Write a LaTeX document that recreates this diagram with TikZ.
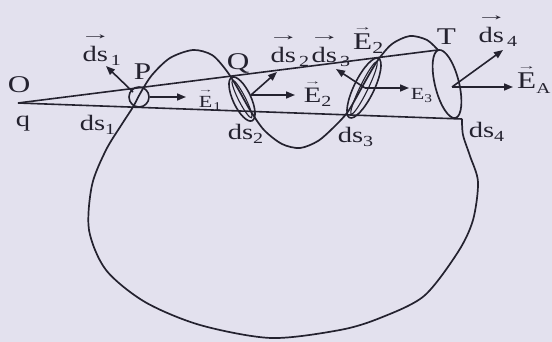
\documentclass[tikz,border=0pt]{standalone}
\usepackage{fontspec}
\setmainfont{Liberation Serif}[FakeStretch=1.3]
\usetikzlibrary{arrows.meta,positioning}
\definecolor{GaussInk}{HTML}{24222F}
\definecolor{GaussPaper}{HTML}{E3E1EE}
\newcommand{\overarrow}[3]{\shortstack{{\fontsize{#2}{#2}\selectfont\scalebox{1.5}[1]{→}}\\[#3]#1}}

\begin{document}
\begin{tikzpicture}[x=1pt,y=-1pt,line width=1.6pt,color=GaussInk,
  surf/.style={line width=1.7pt},
  field/.style={-{Triangle[length=9pt,width=7pt]}},
  lbl/.style={anchor=base west,inner sep=0pt,font=\fontsize{22}{24}\selectfont},
  pointlbl/.style={lbl,font=\fontsize{24}{26}\selectfont},
  sml/.style={lbl,font=\fontsize{17}{19}\selectfont},
]
\fill[GaussPaper] (0,0) rectangle (552,342);
\useasboundingbox (0,0) rectangle (552,342);

\coordinate (O) at (18,103);
\coordinate (T) at (438,50);
\coordinate (D4) at (462,119);
\coordinate (Pc) at (139,97);
\coordinate (Qc) at (242,99);
\coordinate (Rc) at (364,88);
\coordinate (Tc) at (447,84);

\draw (O) -- (T);
\draw (O) -- (D4);

\draw[surf] plot[smooth] coordinates {(462,119) (463,135) (470,156) (478,182) (473,220)
  (458,252) (424,296) (380,318) (340,330) (271,338) (200,325) (145,302) (106,270)
  (89,230) (92,185) (106,150) (122,124) (133,107) (141,92) (152,75) (170,58)
  (193,50) (212,55) (226,70) (237,87) (250,110) (264,130) (282,144) (300,148)
  (318,141) (334,127) (347,113) (356,98) (366,80) (378,60) (392,44) (410,36)
  (427,40) (438,50)};

\draw (Pc) circle [radius=10];
\draw[rotate around={-65:(Qc)}] (Qc) ellipse [x radius=24, y radius=9];
\draw[line width=1.1pt,rotate around={-63:(Qc)}] (Qc) ellipse [x radius=21, y radius=3.5];
\draw[rotate around={64:(Rc)}] (Rc) ellipse [x radius=33, y radius=10];
\draw[line width=1.1pt,rotate around={64:(Rc)}] (Rc) ellipse [x radius=29, y radius=4];
\draw[surf,rotate around={14:(Tc)}] (Tc) ellipse [x radius=12, y radius=35];

\coordinate (P1) at (133,92);
\coordinate (P2) at (150,97);
\coordinate (Q1) at (251,95);
\coordinate (R1) at (365,88);
\coordinate (T1) at (452,87);
\coordinate (P1tip) at (106,66);
\coordinate (P2tip) at (186,97);
\coordinate (Q1tip) at (277,72);
\coordinate (Q2tip) at (295,95);
\coordinate (R1tip) at (336,69);
\coordinate (R2tip) at (409,88);
\coordinate (T1tip) at (503,50);
\coordinate (T2tip) at (513,87);

\draw[field] (P1) -- (P1tip);
\draw[field] (P2) -- (P2tip);
\draw[field] (Q1) -- (Q1tip);
\draw[field] (Q1) -- (Q2tip);
\draw[field] (R1) -- (R1tip);
\draw[field] (R1) -- (R2tip);
\draw[field] (T1) -- (T1tip);
\draw[field] (T1) -- (T2tip);

\node[pointlbl] (o) at (7,93) {O};
\node[lbl] (q) at (15,127) {q};
\node[lbl] (vds1) at (79,62) {\overarrow{ds}{16}{4pt}\textsubscript{1}};
\node[pointlbl] (p) at (133,80) {P};
\node[lbl] (ds1) at (79,131) {ds\textsubscript{1}};
\node[sml] (e1) at (197,108) {\overarrow{E}{8}{1pt}\textsubscript{1}};
\node[pointlbl] (qq) at (226,70) {Q};
\node[lbl] (ds2) at (227,140) {ds\textsubscript{2}};
\node[lbl] (vds2) at (267,63) {\overarrow{ds}{16}{4pt}\textsubscript{2}};
\node[lbl] (vds3) at (308,63) {\overarrow{ds}{16}{4pt}\textsubscript{3}};
\node[pointlbl] (e2top) at (352,50) {\overarrow{E}{10}{1pt}\textsubscript{2}};
\node[lbl] (e2) at (303,103) {\overarrow{E}{9}{1pt}\textsubscript{2}};
\node[sml] (e3) at (410,100) {E\textsubscript{3}};
\node[lbl] (ds3) at (337,143) {ds\textsubscript{3}};
\node[pointlbl] (t) at (436,45) {T};
\node[lbl] (vds4) at (475,43) {\overarrow{ds}{16}{4pt}\textsubscript{4}};
\node[pointlbl] (ea) at (516,89) {\overarrow{E}{10}{1pt}\raisebox{-5pt}{\fontsize{15}{15}\selectfont A}};
\node[lbl] (ds4) at (468,138) {ds\textsubscript{4}};
\end{tikzpicture}
\end{document}
